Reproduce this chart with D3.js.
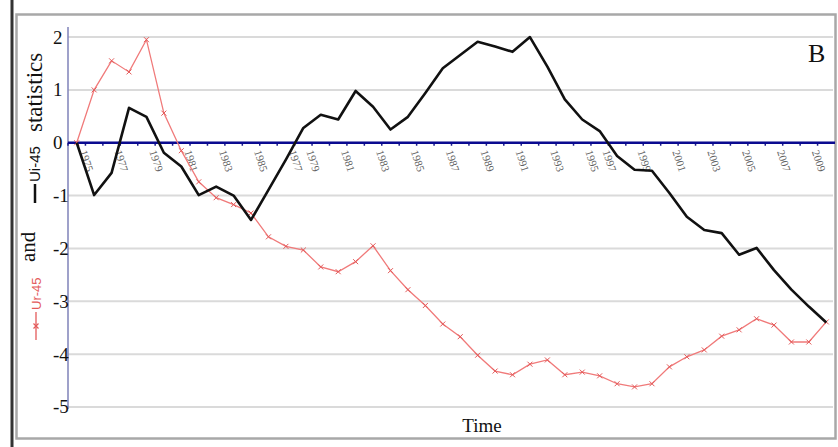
<!DOCTYPE html>
<html>
<head>
<meta charset="utf-8">
<script src="https://cdn.jsdelivr.net/npm/d3@7/dist/d3.min.js"></script>
<style>
    body { margin: 0; background: #fff; }
    svg { display: block; }
</style>
</head>
<body>
<div id="vis"></div>
<script>
// Ui-45 (forward statistic, black) and Ur-45 (backward statistic, red), one value per category
var ui45 = [0, -0.99, -0.57, 0.66, 0.49, -0.19, -0.45, -0.99, -0.83, -1.0,
    -1.46, -0.89, -0.32, 0.28, 0.53, 0.44, 0.98, 0.68, 0.25, 0.49,
    0.94, 1.41, 1.66, 1.91, 1.82, 1.72, 2.0, 1.44, 0.82, 0.44,
    0.22, -0.25, -0.51, -0.53, -0.95, -1.4, -1.65, -1.71, -2.12, -1.99,
    -2.41, -2.78, -3.1, -3.4];
var ur45 = [0, 1.0, 1.55, 1.34, 1.95, 0.56, -0.15, -0.74, -1.04, -1.17,
    -1.33, -1.78, -1.96, -2.03, -2.35, -2.44, -2.25, -1.95, -2.42, -2.78,
    -3.08, -3.43, -3.67, -4.02, -4.32, -4.39, -4.19, -4.11, -4.39, -4.34,
    -4.41, -4.56, -4.62, -4.56, -4.24, -4.05, -3.92, -3.66, -3.54, -3.33,
    -3.45, -3.77, -3.77, -3.39];

// year labels printed along the zero line, and the category each one sits on
var tickLabels = ['1975', '1977', '1979', '1981', '1983', '1985', '1977', '1979', '1981', '1983',
    '1985', '1987', '1989', '1991', '1993', '1995', '1997', '1999', '2001', '2003',
    '2005', '2007', '2009'];
var tickCategory = [0, 2, 4, 6, 8, 10, 12, 13, 15, 17, 19, 21, 23, 25, 27, 29, 30, 32, 34, 36, 38, 40, 42];
var yTicks = [2, 1, 0, -1, -2, -3, -4, -5];

var width = 838;
var height = 447;
var margin = { left: 68, right: 3, top: 27, bottom: 40 };

var svg = d3.select('#vis')
    .append('svg')
    .attr('width', width)
    .attr('height', height);

// outer frame of the figure
svg.append('line')
    .attr('x1', 12).attr('x2', 12).attr('y1', 0).attr('y2', height)
    .style('stroke', '#333').style('stroke-width', 3);
svg.append('rect')
    .attr('x', 16.5).attr('y', 14.5).attr('width', 819).attr('height', 424)
    .style('fill', 'none').style('stroke', '#a8a8a8').style('stroke-width', 2.5);

var xScale = d3.scaleBand()
    .domain(d3.range(ui45.length))
    .range([margin.left, width - margin.right]);
var cx = function(i) { return xScale(i) + xScale.bandwidth() / 2; };

var yScale = d3.scaleLinear()
    .domain([-5, 2.19])
    .range([407, margin.top]);

// grid lines
svg.append('g')
    .selectAll('line')
    .data(yTicks)
    .enter().append('line')
    .attr('x1', margin.left).attr('x2', 833)
    .attr('y1', d => yScale(d)).attr('y2', d => yScale(d))
    .style('stroke', '#dadada').style('stroke-width', 2);

// y axis line
svg.append('line')
    .attr('x1', margin.left).attr('x2', margin.left)
    .attr('y1', yScale(2.19)).attr('y2', yScale(-5) + 2)
    .style('stroke', '#7f82b8').style('stroke-width', 1.5);

// y tick labels
svg.append('g')
    .selectAll('text')
    .data(yTicks)
    .enter().append('text')
    .attr('x', 53)
    .attr('y', d => yScale(d))
    .attr('dy', '0.34em')
    .style('font-family', '"Liberation Serif", "DejaVu Serif", serif')
    .style('font-size', '19px')
    .style('fill', '#111')
    .text(d => d);

// zero line with tick marks at the category boundaries
var xAxis = d3.axisBottom(xScale)
    .tickSize(3)
    .tickFormat('');
var axisG = svg.append('g')
    .attr('transform', 'translate(0,' + yScale(0) + ')')
    .call(xAxis);
axisG.select('.domain').remove();
axisG.selectAll('.tick line')
    .attr('transform', 'translate(' + (-xScale.bandwidth() / 2) + ',0)')
    .style('stroke', '#1a1a8a').style('stroke-width', 1.5);
svg.append('line')
    .attr('x1', margin.left).attr('x2', 835)
    .attr('y1', yScale(0)).attr('y2', yScale(0))
    .style('stroke', '#0a0a90').style('stroke-width', 2.5);

// year labels
svg.append('g')
    .selectAll('text')
    .data(tickLabels)
    .enter().append('text')
    .attr('transform', (d, i) => 'translate(' + (cx(tickCategory[i]) + 10) + ',' + (yScale(0) + 18) + ') rotate(72)')
    .attr('text-anchor', 'middle')
    .attr('dy', '0.35em')
    .style('font-family', '"Liberation Serif", "DejaVu Serif", serif')
    .style('font-size', '11px')
    .style('fill', '#606060')
    .text(d => d);

var line = d3.line()
    .x((d, i) => cx(i))
    .y(d => yScale(d));

// Ur-45 red line with x markers
svg.append('path')
    .datum(ur45)
    .attr('d', line)
    .style('fill', 'none')
    .style('stroke', '#f07a7a')
    .style('stroke-width', 1.3);

var cross = d3.symbol().type(d3.symbolX).size(18);
svg.append('g')
    .selectAll('path')
    .data(ur45)
    .enter().append('path')
    .attr('d', cross)
    .attr('transform', (d, i) => 'translate(' + cx(i) + ',' + yScale(d) + ')')
    .style('fill', 'none')
    .style('stroke', '#e35a5a')
    .style('stroke-width', 1);

// Ui-45 black line
svg.append('path')
    .datum(ui45)
    .attr('d', line)
    .style('fill', 'none')
    .style('stroke', '#111')
    .style('stroke-width', 2.6)
    .style('stroke-linejoin', 'round');

// panel letter
svg.append('text')
    .attr('x', 808).attr('y', 62)
    .style('font-family', '"Liberation Serif", serif')
    .style('font-size', '26px')
    .style('fill', '#111')
    .text('B');

// x axis title
svg.append('text')
    .attr('x', 482).attr('y', 432)
    .attr('text-anchor', 'middle')
    .style('font-family', '"Liberation Serif", serif')
    .style('font-size', '19px')
    .style('fill', '#111')
    .text('Time');

// y axis title, built as a small rotated legend
var yTitle = svg.append('g')
    .attr('transform', 'translate(0,340) rotate(-90)');

yTitle.append('line')
    .attr('x1', 0).attr('x2', 28).attr('y1', 36).attr('y2', 36)
    .style('stroke', '#e35a5a').style('stroke-width', 1.3);
yTitle.append('path')
    .attr('d', cross)
    .attr('transform', 'translate(14,36)')
    .style('fill', 'none').style('stroke', '#e35a5a').style('stroke-width', 1.2);
yTitle.append('text')
    .attr('x', 30).attr('y', 41)
    .style('font-family', '"Liberation Sans", Arial, sans-serif')
    .style('font-size', '13px')
    .style('fill', '#e35a5a')
    .text('Ur-45');
yTitle.append('text')
    .attr('x', 78).attr('y', 35)
    .style('font-family', '"Liberation Serif", serif')
    .style('font-size', '21px')
    .style('fill', '#111')
    .text('and');
yTitle.append('line')
    .attr('x1', 137).attr('x2', 156).attr('y1', 35).attr('y2', 35)
    .style('stroke', '#111').style('stroke-width', 2.5);
yTitle.append('text')
    .attr('x', 158).attr('y', 40)
    .style('font-family', '"Liberation Sans", Arial, sans-serif')
    .style('font-size', '15px')
    .style('fill', '#111')
    .text('Ui-45');
yTitle.append('text')
    .attr('x', 208).attr('y', 42)
    .style('font-family', '"Liberation Serif", serif')
    .style('font-size', '23px')
    .style('fill', '#111')
    .text('statistics');
</script>
</body>
</html>
